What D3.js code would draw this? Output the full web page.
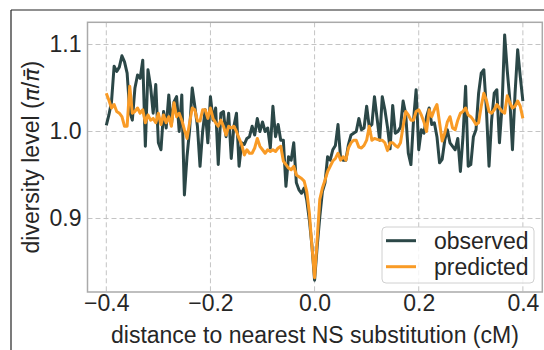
<!DOCTYPE html>
<html>
<head>
<meta charset="utf-8">
<script src="https://cdn.jsdelivr.net/npm/d3@7"></script>
<style>
  html, body { margin: 0; padding: 0; background: #ffffff; }
  svg { display: block; }
  text { font-family: "Liberation Sans", Arial, sans-serif; fill: #262626; }
</style>
</head>
<body>
<svg id="chart" width="544" height="350"></svg>
<script>
// Distance bins around nonsynonymous substitutions (cM)
const binStep = 0.005;
const distances = d3.range(161).map(i => -0.4 + i * binStep);

// Observed diversity, scaled by the genome-wide mean
const observed = [
  1.007, 1.019, 1.034, 1.075, 1.069, 1.074, 1.087, 1.080, 1.067, 1.023,
  1.013, 1.050, 1.065, 1.061, 1.082, 0.983, 1.071, 1.052, 1.021, 1.054,
  0.987, 0.979, 1.023, 1.004, 1.042, 1.008, 1.034, 1.040, 1.000, 1.042,
  0.927, 0.971, 1.002, 1.050, 1.029, 1.006, 0.960, 1.000, 1.025, 0.987,
  1.040, 1.013, 1.027, 0.962, 1.021, 1.023, 0.994, 1.021, 0.969, 1.006,
  1.021, 0.960, 0.987, 0.985, 0.992, 0.994, 1.006, 0.996, 1.015, 1.000,
  1.011, 1.000, 1.004, 0.981, 1.029, 0.994, 1.008, 0.990, 0.990, 0.937,
  0.971, 0.967, 0.987, 0.941, 0.933, 0.929, 0.935, 0.921, 0.898, 0.868,
  0.829, 0.868, 0.902, 0.931, 0.941, 0.971, 0.967, 0.979, 0.984, 1.008,
  0.969, 0.967, 0.967, 0.985, 0.996, 0.998, 1.000, 1.015, 1.002, 1.004,
  1.029, 1.005, 1.008, 1.040, 1.015, 0.990, 1.040, 1.025, 1.005, 0.980,
  1.030, 0.998, 1.000, 1.005, 1.035, 1.020, 0.975, 0.962, 1.013, 1.048,
  0.979, 1.002, 0.998, 1.017, 1.027, 1.008, 1.010, 0.994, 0.964, 0.968,
  0.990, 1.002, 0.987, 0.983, 0.979, 0.992, 0.954, 0.994, 1.052, 0.960,
  0.962, 0.994, 1.002, 1.044, 1.067, 1.071, 1.025, 0.960, 1.013, 1.044,
  1.048, 0.987, 1.029, 1.111, 1.070, 1.036, 0.979, 1.044, 1.094, 1.063,
  1.035
];

// Model-predicted diversity for the same bins
const predicted = [
  1.044, 1.036, 1.027, 1.031, 1.023, 1.021, 1.017, 1.006, 1.006, 1.052,
  1.021, 1.023, 1.027, 1.021, 1.025, 1.010, 1.019, 1.013, 1.015, 1.010,
  1.021, 1.008, 1.019, 1.010, 1.017, 1.006, 1.033, 1.017, 1.021, 1.013,
  1.002, 0.992, 1.010, 1.027, 1.025, 1.012, 1.012, 1.025, 1.025, 1.015,
  1.027, 1.015, 1.010, 1.006, 1.013, 1.006, 0.996, 1.006, 1.004, 1.006,
  1.000, 0.992, 0.985, 0.973, 0.979, 0.975, 0.975, 0.981, 0.992, 0.983,
  0.979, 0.975, 0.979, 0.977, 0.979, 0.977, 0.981, 0.983, 0.966, 0.962,
  0.958, 0.956, 0.960, 0.950, 0.948, 0.946, 0.943, 0.931, 0.906, 0.868,
  0.832, 0.876, 0.922, 0.935, 0.944, 0.954, 0.960, 0.966, 0.969, 0.975,
  0.967, 0.971, 0.967, 0.981, 0.987, 0.990, 0.990, 0.982, 0.981, 0.984,
  0.990, 1.006, 0.990, 0.992, 0.991, 0.990, 0.990, 0.987, 0.978, 0.987,
  0.987, 0.984, 0.982, 0.987, 1.006, 1.023, 1.019, 1.013, 1.013, 1.023,
  1.025, 1.019, 1.011, 1.000, 1.025, 1.017, 1.025, 1.031, 1.010, 0.989,
  0.998, 1.011, 1.017, 1.004, 1.002, 1.013, 1.021, 1.023, 1.027, 1.019,
  1.017, 1.013, 1.008, 1.010, 1.029, 1.044, 1.036, 1.023, 1.021, 1.025,
  1.031, 1.027, 1.023, 1.021, 1.041, 1.033, 1.027, 1.029, 1.035, 1.029,
  1.015
];

const xTicks = [-0.4, -0.2, 0.0, 0.2, 0.4];
const yTicks = [0.9, 1.0, 1.1];
const seriesNames = ["observed", "predicted"];
const seriesColors = ["#2b4747", "#f99b26"];

const FONT = 23;
const svg = d3.select("#chart");

// Figure border (left and top edges)
svg.append("line").attr("x1", 11).attr("x2", 11).attr("y1", 10).attr("y2", 350)
  .attr("stroke", "#222").attr("stroke-width", 1.2);
svg.append("line").attr("x1", 11).attr("x2", 544).attr("y1", 10).attr("y2", 10)
  .attr("stroke", "#222").attr("stroke-width", 1.2);

const plot = { left: 87.5, right: 542.3, top: 22.3, bottom: 292 };

const x = d3.scaleLinear().domain([-0.4361, 0.4373]).range([plot.left, plot.right]);
const y = d3.scaleLinear().domain([0.8155, 1.1255]).range([plot.bottom, plot.top]);

const fmt = d => d3.format(".1f")(d).replace("-", "\u2212");

// Dashed grid
const grid = svg.append("g").attr("class", "grid");
grid.selectAll("line.gx").data(xTicks).join("line")
  .attr("x1", d => x(d)).attr("x2", d => x(d))
  .attr("y1", plot.top).attr("y2", plot.bottom)
  .attr("stroke", "#c4c4c4").attr("stroke-width", 1).attr("stroke-dasharray", "5,3");
grid.selectAll("line.gy").data(yTicks).join("line")
  .attr("x1", plot.left).attr("x2", plot.right)
  .attr("y1", d => y(d)).attr("y2", d => y(d))
  .attr("stroke", "#c4c4c4").attr("stroke-width", 1).attr("stroke-dasharray", "5,3");

// Axes: tick labels only, no tick marks
const xAxis = d3.axisBottom(x).tickValues(xTicks).tickFormat(fmt).tickSize(0).tickPadding(3);
const yAxis = d3.axisLeft(y).tickValues(yTicks).tickFormat(d3.format(".1f")).tickSize(0).tickPadding(6);

const gx = svg.append("g").attr("transform", `translate(0,${plot.bottom})`).call(xAxis);
const gy = svg.append("g").attr("transform", `translate(${plot.left},0)`).call(yAxis);
[gx, gy].forEach(g => {
  g.select(".domain").remove();
  g.selectAll("text").attr("font-size", FONT)
    .attr("font-family", "'Liberation Sans', Arial, sans-serif").attr("fill", "#262626");
});

// Lines
svg.append("clipPath").attr("id", "plotClip").append("rect")
  .attr("x", plot.left).attr("y", plot.top)
  .attr("width", plot.right - plot.left).attr("height", plot.bottom - plot.top);

const line = d3.line().x(d => x(d[0])).y(d => y(d[1]));
const seriesValues = [observed, predicted];
const lines = svg.append("g").attr("clip-path", "url(#plotClip)");
seriesValues.forEach((vals, k) => {
  lines.append("path")
    .datum(distances.map((d, i) => [d, vals[i]]))
    .attr("d", line)
    .attr("fill", "none")
    .attr("stroke", seriesColors[k])
    .attr("stroke-width", 3)
    .attr("stroke-linejoin", "round")
    .attr("stroke-linecap", "butt");
});

// Axes frame
svg.append("rect")
  .attr("x", plot.left).attr("y", plot.top)
  .attr("width", plot.right - plot.left).attr("height", plot.bottom - plot.top)
  .attr("fill", "none").attr("stroke", "#aaaaaa").attr("stroke-width", 1.5);

// Axis titles
svg.append("text")
  .attr("x", (plot.left + plot.right) / 2).attr("y", 343)
  .attr("text-anchor", "middle").attr("font-size", FONT)
  .text("distance to nearest NS substitution (cM)");

const yl = svg.append("text")
  .attr("transform", `translate(39,${(plot.top + plot.bottom) / 2}) rotate(-90)`)
  .attr("text-anchor", "middle").attr("font-size", FONT);
yl.append("tspan").text("diversity level (");
yl.append("tspan").attr("font-style", "italic").attr("font-family", "'DejaVu Sans', sans-serif").attr("font-size", 22).text("\u03c0");
yl.append("tspan").text("/");
yl.append("tspan").attr("font-style", "italic").attr("font-family", "'DejaVu Sans', sans-serif").attr("font-size", 22).text("\u03c0\u0304");
yl.append("tspan").text(")");

// Legend
const legend = svg.append("g").attr("transform", "translate(382,227)");
legend.append("rect")
  .attr("width", 152).attr("height", 56).attr("rx", 4).attr("ry", 4)
  .attr("fill", "#ffffff").attr("fill-opacity", 0.8)
  .attr("stroke", "#d0d0d0").attr("stroke-width", 1);
seriesNames.forEach((name, k) => {
  const cy = 13.7 + k * 26;
  legend.append("line")
    .attr("x1", 4).attr("x2", 34).attr("y1", cy).attr("y2", cy)
    .attr("stroke", seriesColors[k]).attr("stroke-width", 3);
  legend.append("text")
    .attr("x", 52).attr("y", cy + 8)
    .attr("font-size", FONT).text(name);
});
</script>
</body>
</html>
